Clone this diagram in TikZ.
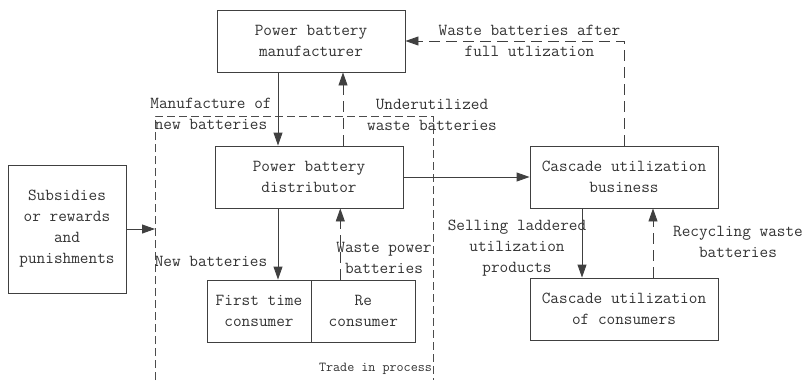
\documentclass[tikz,border=0pt]{standalone}
\usepackage{fontspec}
\usetikzlibrary{arrows.meta, positioning}

\tikzset{
  box/.style={draw=black!75, line width=0.9pt, align=center, inner sep=0pt, text=black!80},
  lbl/.style={align=center, inner sep=0pt, text=black!80},
  arr/.style={-{Triangle[length=13pt,width=9pt]}, line width=0.9pt, draw=black!75},
  darr/.style={arr, dash pattern=on 11pt off 6pt},
  frame/.style={line width=0.9pt, draw=black!70, dash pattern=on 8pt off 4pt},
}

\begin{document}
\begin{tikzpicture}[x=1pt, y=-1pt, font=\ttfamily\fontsize{16.8}{21}\selectfont]
    \useasboundingbox (0,0) rectangle (805,380);

    % boxes
    \node[box, minimum width=188pt, minimum height=62pt] (mfr) at (311,41) {Power battery\\manufacturer};
    \node[box, minimum width=188pt, minimum height=62pt] (dist) at (309,177) {Power battery\\distributor};
    \node[box, minimum width=104pt, minimum height=62pt] (first) at (259,311) {First time\\consumer};
    \node[box, minimum width=104.5pt, minimum height=62pt] (re) at (363.3,311) {Re\\consumer};
    \node[box, minimum width=188pt, minimum height=62pt] (cub) at (624,177) {Cascade utilization\\business};
    \node[box, minimum width=188pt, minimum height=62pt] (cuc) at (624,309) {Cascade utilization\\of consumers};
    \node[box, minimum width=118pt, minimum height=128pt] (subs) at (67,229) {Subsidies\\or rewards\\and\\punishments};

    % trade in frame
    \coordinate (fTL) at (155,116);
    \coordinate (fTR) at (433,116);
    \coordinate (fBL) at (155,380);
    \coordinate (fBR) at (433,380);
    \draw[frame] (fBL) -- (fTL) -- (fTR) -- (fBR);

    % labels
    \node[lbl] (manlbl) at (211,113.5) {Manufacture of\\new batteries};
    \node[lbl] (undlbl) at (432,115) {Underutilized\\waste batteries};
    \node[lbl] (newlbl) at (211,261) {New batteries};
    \node[lbl] (wplbl) at (384,258) {Waste power\\batteries};
    \node[lbl, font=\ttfamily\fontsize{13.7}{16}\selectfont] (tiplbl) at (375.5,368.7) {Trade in process};
    \node[lbl] (sellbl) at (517,248) {Selling laddered\\utilization\\products};
    \node[lbl] (reclbl) at (738,242) {Recycling waste\\batteries};
    \node[lbl] (wblbl) at (529.5,41) {Waste batteries after\\full utlization};

    % connectors
    \draw[arr] ([xshift=-33pt]mfr.south) -- ([xshift=-33pt]mfr.south |- dist.north);
    \draw[darr] ([xshift=34pt]dist.north) -- ([xshift=34pt]dist.north |- mfr.south);
    \draw[arr] ([xshift=-31pt]dist.south) -- ([xshift=-31pt]dist.south |- first.north);
    \draw[darr] ([xshift=-23pt]re.north) -- ([xshift=-23pt]re.north |- dist.south);
    \draw[arr] (dist.east) -- (cub.west);
    \draw[arr] ([xshift=-42pt]cub.south) -- ([xshift=-42pt]cub.south |- cuc.north);
    \draw[darr] ([xshift=29pt]cuc.north) -- ([xshift=29pt]cuc.north |- cub.south);
    \draw[darr] (cub.north) |- (mfr.east);
    \draw[arr] (subs.east) -- (subs.east -| fTL);
\end{tikzpicture}
\end{document}
